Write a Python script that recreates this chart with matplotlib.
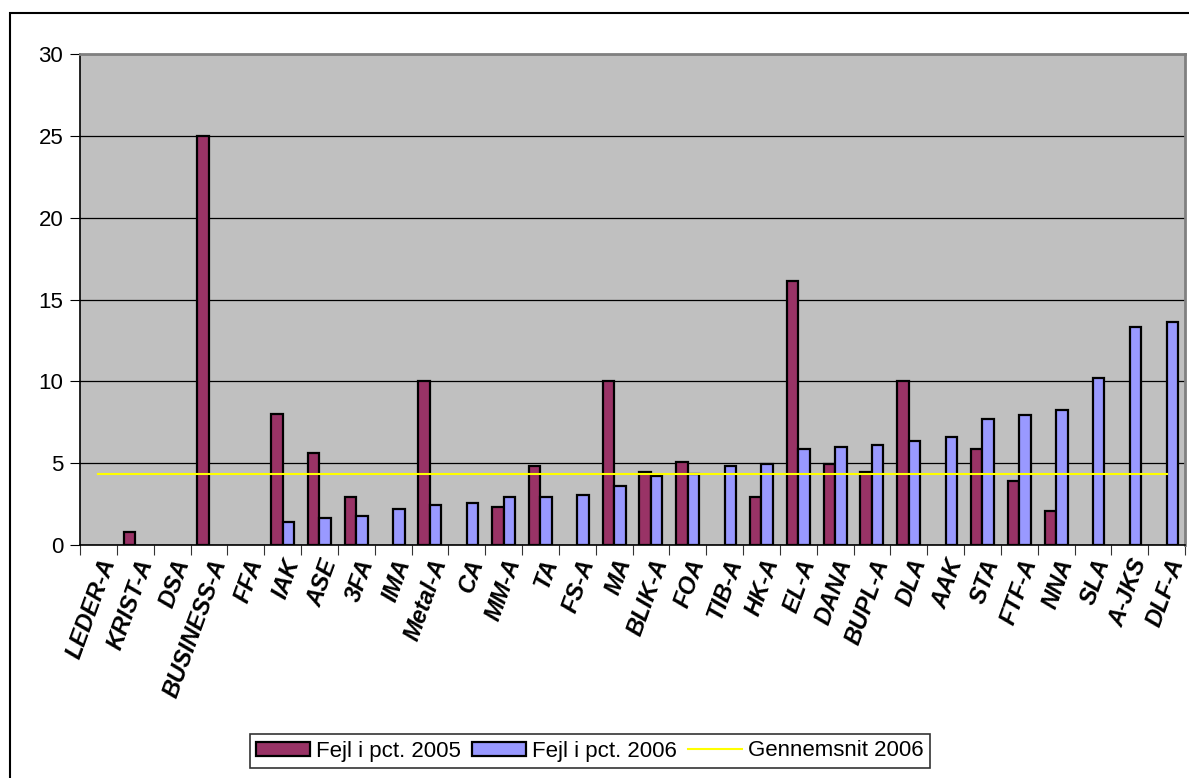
import numpy as np
import matplotlib.pyplot as plt
from matplotlib.patches import Rectangle

plt.rcParams['font.family'] = ['Liberation Sans', 'DejaVu Sans']

kasser = ["LEDER-A", "KRIST-A", "DSA", "BUSINESS-A", "FFA", "IAK", "ASE", "3FA", "IMA",
          "Metal-A", "CA", "MM-A", "TA", "FS-A", "MA", "BLIK-A", "FOA", "TIB-A", "HK-A",
          "EL-A", "DANA", "BUPL-A", "DLA", "AAK", "STA", "FTF-A", "NNA", "SLA", "A-JKS", "DLF-A"]

nan = np.nan
fejl_2005 = [nan, 0.82, nan, 25.0, nan, 8.02, 5.65, 2.94, nan,
             10.0, nan, 2.35, 4.80, nan, 10.0, 4.47, 5.06, nan, 2.94,
             16.1, 4.94, 4.49, 10.0, nan, 5.88, 3.88, 2.10, nan, nan, nan]
fejl_2006 = [nan, nan, nan, nan, nan, 1.39, 1.63, 1.76, 2.22,
             2.47, 2.57, 2.94, 2.94, 3.04, 3.63, 4.22, 4.33, 4.82, 4.94,
             5.88, 6.00, 6.12, 6.35, 6.57, 7.67, 7.92, 8.24, 10.2, 13.3, 13.6]
gennemsnit_2006 = [4.33] * len(kasser)

fig = plt.figure(figsize=(11.89, 7.78), dpi=100)

# outer chart border (cut at right/bottom like the screenshot)
fig.patches.append(Rectangle((10 / 1189, -0.02), 1.05, 0.02 + 1 - 13 / 778,
                             transform=fig.transFigure, fill=False,
                             edgecolor='black', linewidth=1.5))

ax = fig.add_axes([80 / 1189, 1 - 545 / 778, (1185 - 80) / 1189, (545 - 54) / 778])
ax.set_facecolor('#C0C0C0')

x = np.arange(len(kasser))
w = 0.31
b1 = ax.bar(x - w / 2, fejl_2005, w, color='#993366', edgecolor='black', linewidth=1.6,
            label='Fejl i pct. 2005', zorder=3)
b2 = ax.bar(x + w / 2, fejl_2006, w, color='#9999FF', edgecolor='black', linewidth=1.6,
            label='Fejl i pct. 2006', zorder=3)
ln, = ax.plot(x, gennemsnit_2006, color='#FFFF00', linewidth=1.5, label='Gennemsnit 2006', zorder=4)

ax.set_ylim(0, 30)
ax.set_xlim(-0.5, len(kasser) - 0.5)
ax.set_yticks(range(0, 31, 5))
ax.yaxis.grid(True, color='black', linewidth=0.9, zorder=1)
ax.set_axisbelow(True)
ax.tick_params(axis='y', labelsize=16, length=7, direction='out', pad=5)

ax.set_xticks(np.arange(-0.5, len(kasser), 1))
ax.set_xticklabels([])
ax.tick_params(axis='x', length=7, direction='out', color='#333333')
for i, name in enumerate(kasser):
    ax.text(i + 0.3, -0.9, name, transform=ax.transData, rotation=70,
            rotation_mode='anchor', ha='right', va='center', fontsize=17,
            fontweight='bold', fontstyle='italic', clip_on=False)

for s in ['left', 'bottom']:
    ax.spines[s].set_color('black')
    ax.spines[s].set_linewidth(1.2)
for s in ['top', 'right']:
    ax.spines[s].set_color('#808080')
    ax.spines[s].set_linewidth(2)

leg = fig.legend(handles=[b1, b2, ln], loc='center', bbox_to_anchor=(590 / 1189, 1 - 751 / 778),
                 ncol=3, fontsize=16, frameon=True, fancybox=False, edgecolor='black',
                 handlelength=2.4, handleheight=0.6, handletextpad=0.3, columnspacing=0.5,
                 borderpad=0.3)
leg.get_frame().set_linewidth(1.2)

fig.savefig('out.png', dpi=100)
